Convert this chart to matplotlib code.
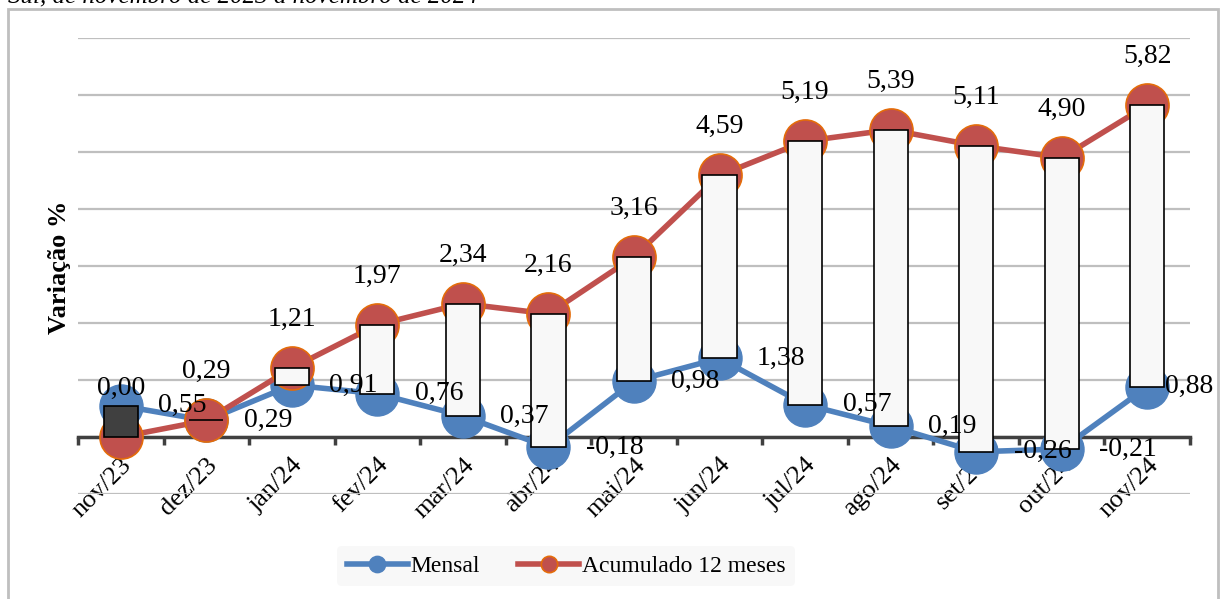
import matplotlib
matplotlib.use("Agg")
import matplotlib.pyplot as plt
from matplotlib.patches import Rectangle
import numpy as np

plt.rcParams["font.family"] = ["Liberation Serif", "DejaVu Serif"]

MESES = ["nov/23", "dez/23", "jan/24", "fev/24", "mar/24", "abr/24", "mai/24",
         "jun/24", "jul/24", "ago/24", "set/24", "out/24", "nov/24"]
MENSAL = [0.55, 0.29, 0.91, 0.76, 0.37, -0.18, 0.98, 1.38, 0.57, 0.19, -0.26, -0.21, 0.88]
ACUMULADO = [0.00, 0.29, 1.21, 1.97, 2.34, 2.16, 3.16, 4.59, 5.19, 5.39, 5.11, 4.90, 5.82]

AZUL = "#4f81bd"
VERMELHO = "#c0504d"


def fmt(v):
    return f"{v:.2f}".replace(".", ",")


W, H = 1221, 599
fig = plt.figure(figsize=(W / 100, H / 100), dpi=100)
ax = fig.add_axes([78 / W, 1 - 494 / H, (1190 - 78) / W, (494 - 38) / H])

x = np.arange(len(MESES))
mensal = np.array(MENSAL)
acum = np.array(ACUMULADO)

ax.plot(x, mensal, color=AZUL, lw=4, marker="o", ms=31,
        mfc=AZUL, mec=AZUL, zorder=3, label="Mensal")
ax.plot(x, acum, color=VERMELHO, lw=4, marker="o", ms=31,
        mfc=VERMELHO, mec="#e46c0a", mew=1.2, zorder=4, label="Acumulado 12 meses")

# barras de alta/baixa entre as duas series
low = np.minimum(mensal, acum)
diff = acum - mensal
cores = ["#f8f8f8" if d >= 0 else "#404040" for d in diff]
ax.bar(x, np.abs(diff), bottom=low, width=0.4, color=cores,
       edgecolor="black", lw=1.2, zorder=5)

# rotulos
for i, v in enumerate(acum):
    ax.annotate(fmt(v), (i, v), xytext=(0, 35), textcoords="offset points",
                ha="center", va="center", fontsize=20, zorder=6)
for i, v in enumerate(mensal):
    dx = 13 if i == len(mensal) - 1 else 27
    ax.annotate(fmt(v), (i, v), xytext=(dx, 0), textcoords="offset points",
                ha="left", va="center", fontsize=20, zorder=6)

ax.set_xlim(-0.5, len(MESES) - 0.5)
ax.set_ylim(-1, 7)
ax.set_yticks(np.arange(-1, 8, 1))
ax.yaxis.grid(True, color="#bfbfbf", lw=1.6)
ax.set_axisbelow(True)
ax.tick_params(axis="y", left=False, labelleft=False)

for s in ["top", "right", "left"]:
    ax.spines[s].set_visible(False)
ax.spines["bottom"].set_position(("data", 0))
ax.spines["bottom"].set_color("#404040")
ax.spines["bottom"].set_linewidth(2.5)
ax.spines["bottom"].set_zorder(2.5)

ax.set_xticks(x)
ax.set_xticklabels(MESES, rotation=45, ha="right", rotation_mode="anchor", fontsize=19)
ax.tick_params(axis="x", which="major", length=0, pad=12)
ax.set_xticks(np.arange(-0.5, len(MESES), 1), minor=True)
ax.tick_params(axis="x", which="minor", length=6, width=2.5, color="#404040", direction="out")

fig.text(60 / W, 1 - 267 / H, "Variação %", rotation=90, fontsize=19,
         fontweight="bold", ha="center", va="center")

leg = fig.legend(loc="center", bbox_to_anchor=(566 / W, 1 - 566 / H), ncol=2,
                 fontsize=17, frameon=True, markerscale=0.38, handlelength=2.6,
                 columnspacing=1.6, handletextpad=0.1, borderpad=0.4)
leg.get_frame().set_facecolor("#f8f8f8")
leg.get_frame().set_edgecolor("none")
leg.get_frame().set_alpha(1)

fig.patches.append(Rectangle((8 / W, -0.05), (1218 - 8) / W, 1.05 - 9 / H,
                             transform=fig.transFigure, fill=False,
                             edgecolor="#bfbfbf", lw=2))
# linha de titulo cortada no topo, como na imagem original
fig.text(8 / W, 1 - 2 / H, "Sul, de novembro de 2023 a novembro de 2024",
         fontsize=18, style="italic", ha="left", va="baseline")

fig.savefig("out.png", dpi=100)
